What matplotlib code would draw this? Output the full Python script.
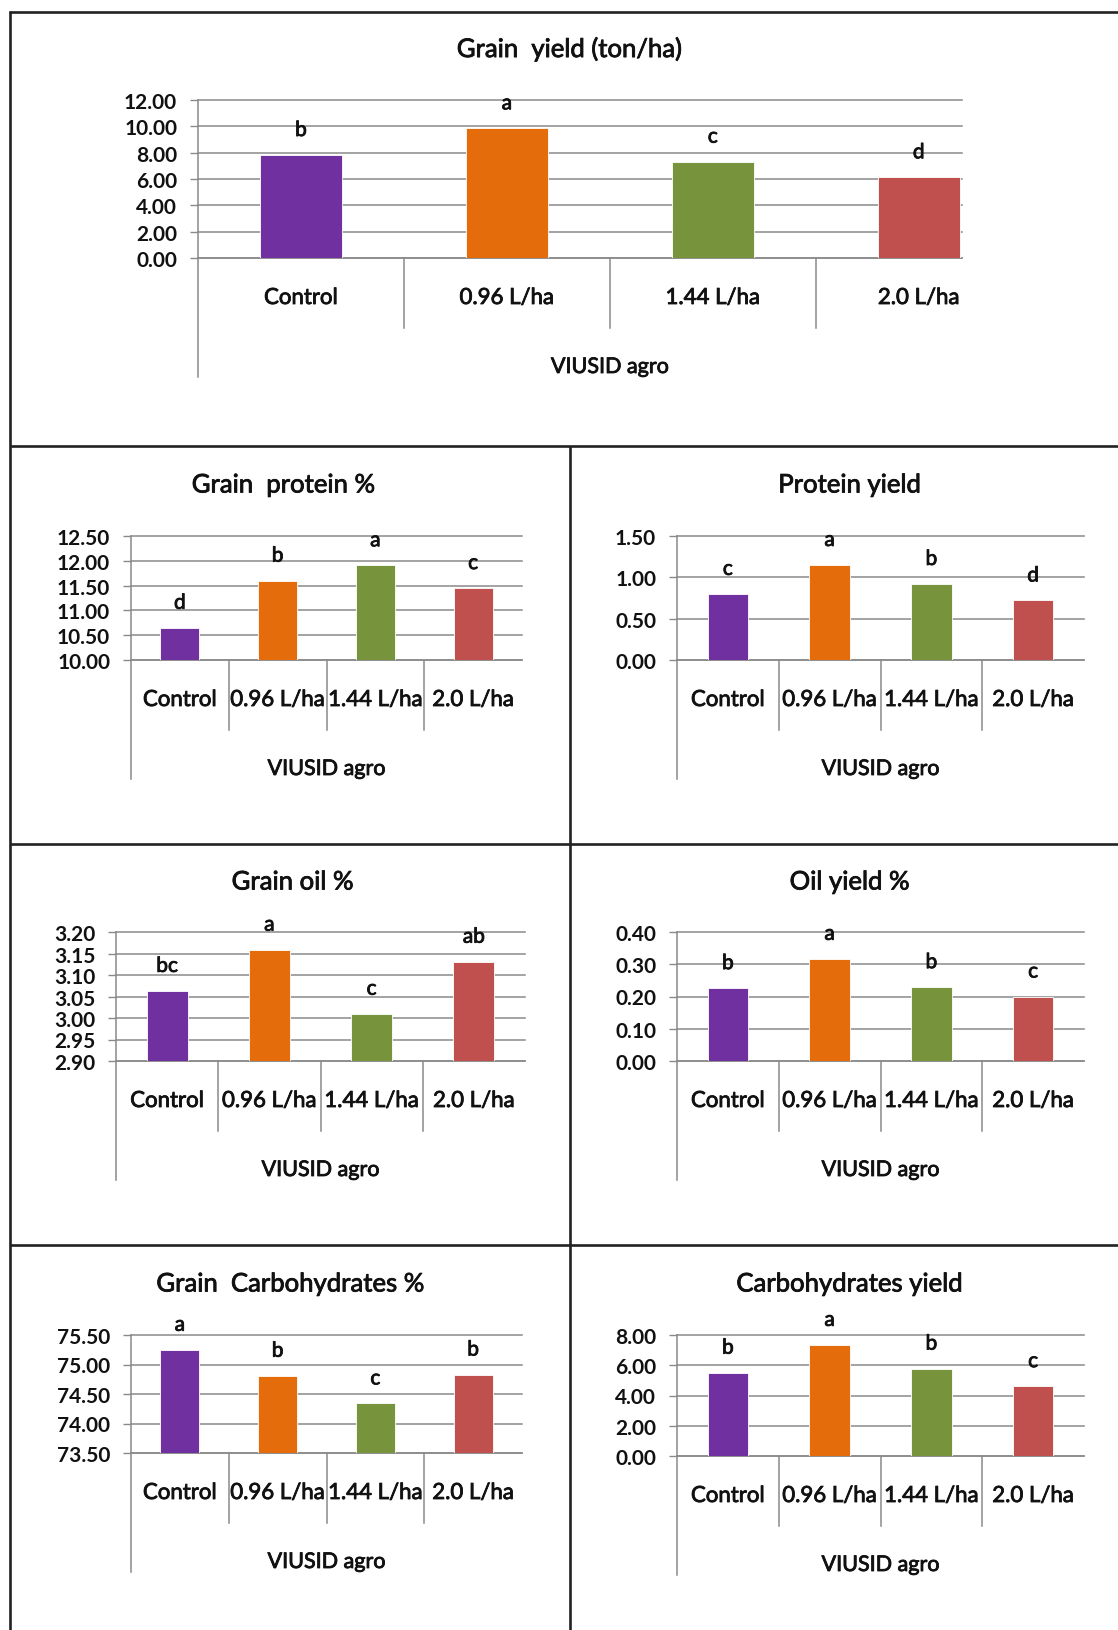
import matplotlib
matplotlib.use("Agg")
import matplotlib.pyplot as plt
import matplotlib.patheffects as pe
from matplotlib.lines import Line2D
from matplotlib.transforms import blended_transform_factory

plt.rcParams["font.family"] = ["Lato", "DejaVu Sans"]

# data
categories = ["Control", "0.96 L/ha", "1.44 L/ha", "2.0 L/ha"]
axis_title = "VIUSID agro"

grain_yield = [7.82, 9.85, 7.32, 6.13]
grain_yield_letters = ["b", "a", "c", "d"]

grain_protein = [10.65, 11.60, 11.91, 11.45]
grain_protein_letters = ["d", "b", "a", "c"]

protein_yield = [0.80, 1.15, 0.92, 0.72]
protein_yield_letters = ["c", "a", "b", "d"]

grain_oil = [3.063, 3.159, 3.010, 3.131]
grain_oil_letters = ["bc", "a", "c", "ab"]

oil_yield = [0.226, 0.317, 0.229, 0.200]
oil_yield_letters = ["b", "a", "b", "c"]

grain_carb = [75.25, 74.81, 74.34, 74.83]
grain_carb_letters = ["a", "b", "c", "b"]

carb_yield = [5.51, 7.35, 5.78, 4.62]
carb_yield_letters = ["b", "a", "b", "c"]

COLORS = ["#7030A0", "#E46C0A", "#77933C", "#C0504D"]
GRID = "#8a8a8a"
TEXT = "#111111"
W, H = 1118, 1631
# slight stroke so the regular face reads as heavy as the reference text
HEAVY = [pe.withStroke(linewidth=0.6, foreground=TEXT)]

fig = plt.figure(figsize=(W / 100, H / 100), dpi=100)


def frame_line(x0, y0, x1, y1):
    fig.add_artist(Line2D([x0 / W, x1 / W], [1 - y0 / H, 1 - y1 / H],
                          color="#222222", lw=1.9, solid_capstyle="butt"))


def panel(box, values, letters, title, title_xy, ylim, step, fmt, xmax=3.5):
    left, right, top, bottom = box
    h = bottom - top
    ax = fig.add_axes([left / W, 1 - bottom / H, (right - left) / W, h / H])
    xs = range(len(values))
    ax.bar(xs, values, width=0.4, color=COLORS, edgecolor="white", linewidth=0.6, zorder=3)
    ax.set_xlim(-0.5, xmax)
    ax.set_ylim(*ylim)
    n = int(round((ylim[1] - ylim[0]) / step))
    ticks = [ylim[0] + k * step for k in range(n + 1)]
    ax.set_yticks(ticks)
    ax.set_yticklabels([fmt.format(t) for t in ticks], fontsize=15, fontweight="bold", color=TEXT)
    ax.tick_params(axis="y", length=6, width=1.0, color=GRID, pad=9)
    ax.set_xticks([])
    ax.set_axisbelow(True)
    ax.yaxis.grid(True, color=GRID, lw=1.1)
    for gl in ax.get_ygridlines():
        gl.set_clip_on(False)
    for side in ("top", "right"):
        ax.spines[side].set_visible(False)
    for side in ("left", "bottom"):
        ax.spines[side].set_color(GRID)
        ax.spines[side].set_linewidth(1.1)

    trans = blended_transform_factory(ax.transData, ax.transAxes)
    for sep in (0.5, 1.5, 2.5):
        ax.plot([sep, sep], [0, -70 / h], transform=trans, color=GRID, lw=1.1, clip_on=False)
    ax.plot([-0.5, -0.5], [0, -119 / h], transform=trans, color=GRID, lw=1.1, clip_on=False)
    for i, cat in enumerate(categories):
        ax.text(i, -40 / h, cat, transform=trans, ha="center", va="center",
                fontsize=16, color=TEXT, path_effects=HEAVY)
    ax.text(1.5, -109 / h, axis_title, transform=trans, ha="center", va="center",
            fontsize=15.5, color=TEXT, path_effects=HEAVY)

    for i, (v, lab) in enumerate(zip(values, letters)):
        ax.annotate(lab, (i, v), xytext=(0, 18), textcoords="offset points",
                    ha="center", va="center", fontsize=15, color=TEXT, path_effects=HEAVY)

    fig.text(title_xy[0] / W, 1 - title_xy[1] / H, title, ha="center", va="center",
             fontsize=18.5, color=TEXT, path_effects=HEAVY)
    return ax


panel((198, 962, 101, 259), grain_yield, grain_yield_letters, "Grain  yield (ton/ha)",
      (570, 50), (0, 12), 2, "{:.2f}", xmax=3.21)
panel((131, 522, 537, 661), grain_protein, grain_protein_letters, "Grain  protein %",
      (284, 486), (10, 12.5), 0.5, "{:.2f}")
panel((677, 1084, 537, 661), protein_yield, protein_yield_letters, "Protein yield",
      (850, 486), (0, 1.5), 0.5, "{:.2f}")
panel((116, 525, 933, 1062), grain_oil, grain_oil_letters, "Grain oil %",
      (293, 883), (2.9, 3.2), 0.05, "{:.2f}")
panel((677, 1084, 933, 1062), oil_yield, oil_yield_letters, "Oil yield %",
      (850, 883), (0, 0.4), 0.1, "{:.2f}")
panel((131, 522, 1336, 1454), grain_carb, grain_carb_letters, "Grain  Carbohydrates %",
      (291, 1285), (73.5, 75.5), 0.5, "{:.2f}")
panel((677, 1084, 1336, 1457), carb_yield, carb_yield_letters, "Carbohydrates yield",
      (850, 1285), (0, 8), 2, "{:.2f}")

# panel frame
frame_line(10, 12, 10, H)
frame_line(9, 13, W, 13)
for y in (447, 845, 1246):
    frame_line(10, y, W, y)
frame_line(570, 447, 570, H)

fig.savefig("out.png", dpi=100)
